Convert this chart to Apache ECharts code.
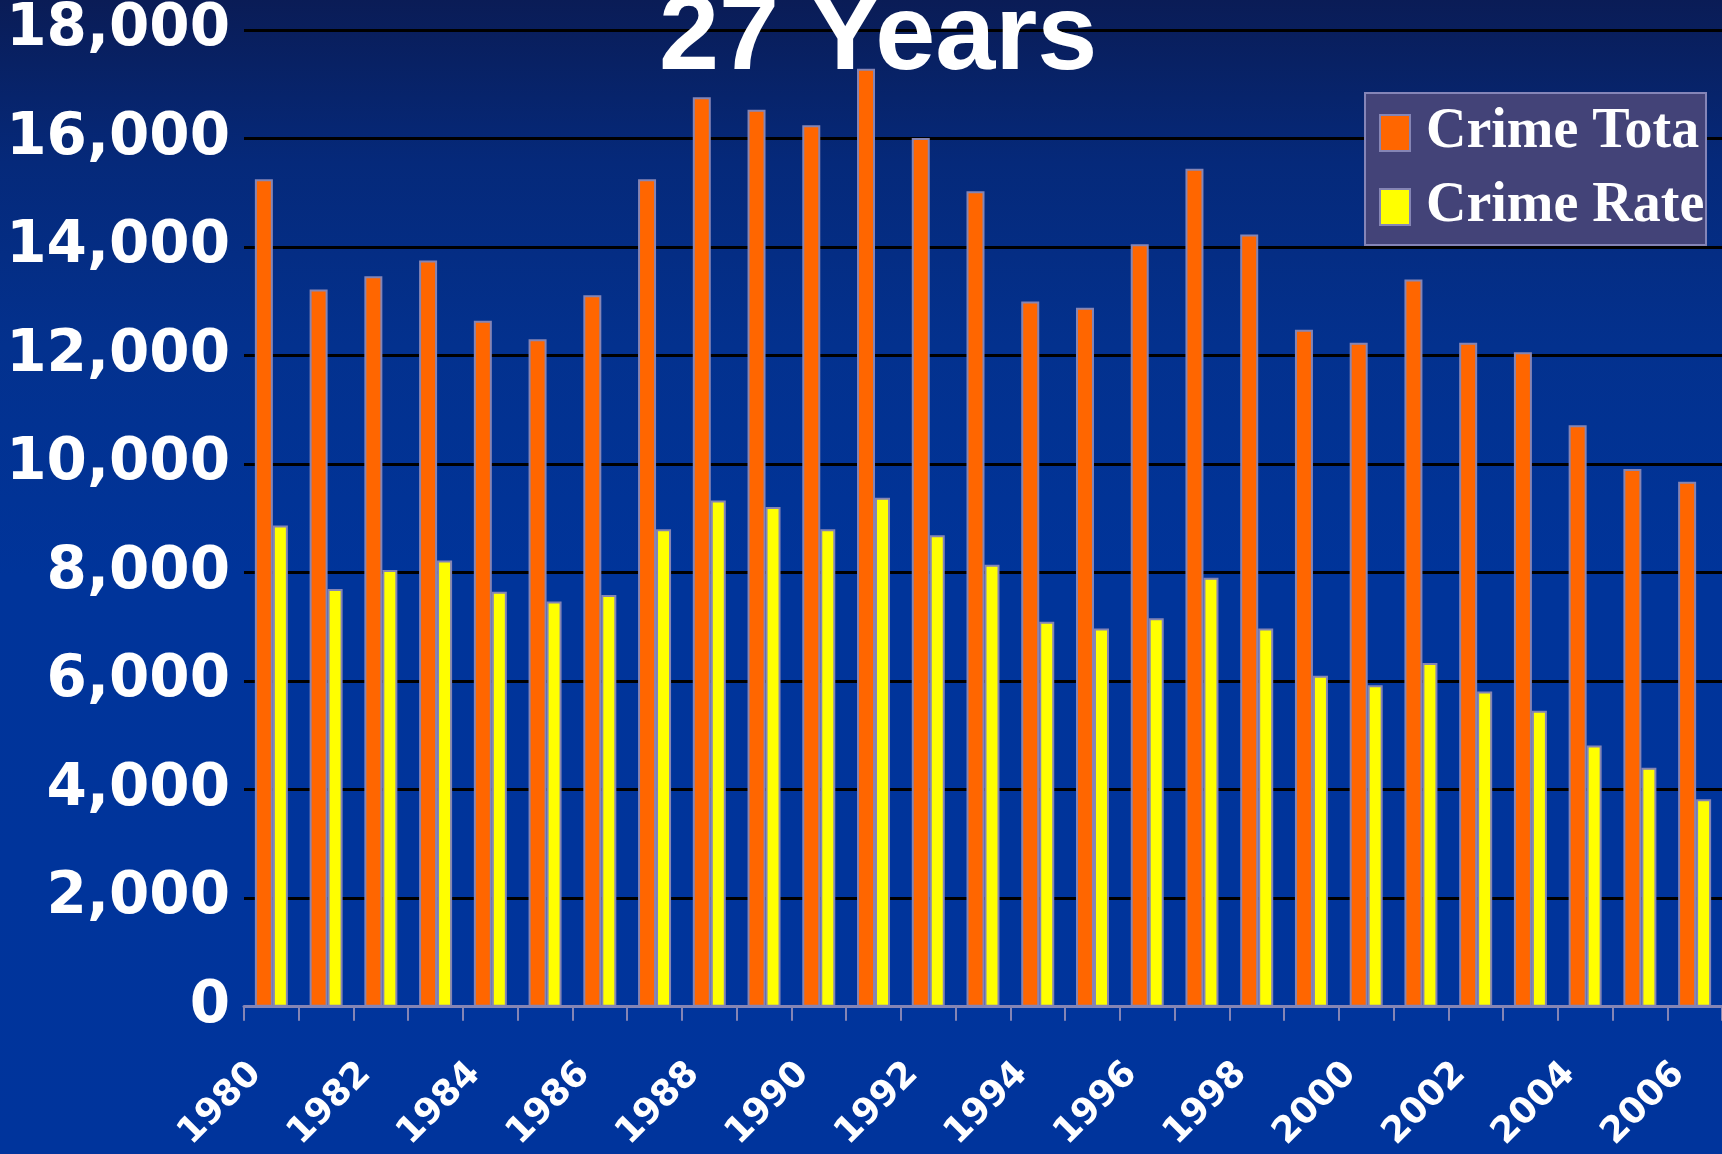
<!DOCTYPE html>
<html>
<head>
<meta charset="utf-8">
<title>27 Years</title>
<script src="https://cdn.jsdelivr.net/npm/echarts@6/dist/echarts.min.js"></script>
<style>
  html, body { margin: 0; padding: 0; }
  #chart {
    width: 1722px;
    height: 1154px;
    background: linear-gradient(to bottom, #0a1c56 0%, #05297a 14%, #03318e 30%, #00349a 50%, #00349c 100%);
  }
</style>
</head>
<body>
<div id="chart"></div>
<script>
'use strict';

var years = ['1980', '1981', '1982', '1983', '1984', '1985', '1986', '1987', '1988',
  '1989', '1990', '1991', '1992', '1993', '1994', '1995', '1996', '1997', '1998',
  '1999', '2000', '2001', '2002', '2003', '2004', '2005', '2006'];

var crimeTotal = [15250, 13220, 13460, 13750, 12640, 12300, 13110, 15250, 16760,
  16530, 16245, 17285, 16012, 15030, 12995, 12880, 14050, 15445, 14230,
  12475, 12235, 13400, 12235, 12060, 10715, 9910, 9675];

var crimeRate = [8870, 7700, 8050, 8225, 7650, 7470, 7590, 8800, 9330,
  9210, 8800, 9380, 8690, 8145, 7095, 6970, 7160, 7905, 6970,
  6100, 5925, 6335, 5810, 5455, 4815, 4405, 3825];

var seriesNames = ['Crime Total', 'Crime Rate'];
var seriesColors = ['#ff6600', '#ffff00'];

var borderColor = '#8585b5';

function addCommas(v) {
  return String(v).replace(/\B(?=(\d{3})+(?!\d))/g, ',');
}

var chart = echarts.init(document.getElementById('chart'), null, {renderer: 'canvas'});

var option = {
  backgroundColor: 'transparent',
  animation: false,
  title: {
    text: '27 Years',
    left: 659,
    top: -15,
    padding: 0,
    textStyle: {
      color: '#ffffff',
      fontFamily: 'Liberation Sans',
      fontWeight: 'bold',
      fontSize: 108
    }
  },
  legend: {
    orient: 'vertical',
    left: 1365,
    top: 93,
    padding: [12, 0, 10, 14],
    itemGap: 18,
    itemWidth: 30,
    itemHeight: 36,
    icon: 'rect',
    backgroundColor: '#434378',
    borderColor: '#8585b8',
    borderWidth: 2,
    borderRadius: 0,
    itemStyle: {
      borderColor: borderColor,
      borderWidth: 2
    },
    textStyle: {
      color: '#ffffff',
      fontFamily: 'Liberation Serif',
      fontWeight: 'bold',
      fontSize: 56,
      lineHeight: 40,
      padding: [0, 0, 0, 11],
      width: 280,
      overflow: 'truncate',
      ellipsis: ''
    },
    data: seriesNames
  },
  grid: {
    left: 244,
    right: -2,
    top: 30,
    bottom: 141,
    containLabel: false
  },
  //xAxis
  xAxis: {
    type: 'category',
    data: years,
    z: 3,
    axisLine: {
      show: true,
      lineStyle: {
        color: borderColor,
        width: 3
      }
    },
    axisTick: {
      show: true,
      interval: 0,
      length: 14,
      lineStyle: {
        color: borderColor,
        width: 2
      }
    },
    axisLabel: {
      interval: 1,
      rotate: 45,
      margin: 46,
      padding: [0, 22, 0, 0],
      color: '#ffffff',
      fontFamily: 'DejaVu Sans',
      fontWeight: 'bold',
      fontSize: 36
    },
    splitLine: { show: false }
  },
  //yAxis
  yAxis: {
    type: 'value',
    min: 0,
    max: 18000,
    interval: 2000,
    axisLine: { show: false },
    axisTick: { show: false },
    axisLabel: {
      margin: 14,
      color: '#ffffff',
      fontFamily: 'DejaVu Sans',
      fontWeight: 'bold',
      fontSize: 58,
      formatter: function (v) {
        return addCommas(v);
      }
    },
    splitLine: {
      show: true,
      lineStyle: {
        color: '#000000',
        width: 3,
        type: 'solid'
      }
    }
  },
  //series
  series: [
    {
      type: 'bar',
      name: seriesNames[0],
      data: crimeTotal,
      barWidth: 18,
      barGap: '0%',
      itemStyle: {
        color: seriesColors[0],
        borderColor: borderColor,
        borderWidth: 2
      }
    },
    {
      type: 'bar',
      name: seriesNames[1],
      data: crimeRate,
      barWidth: 15,
      barGap: '0%',
      itemStyle: {
        color: seriesColors[1],
        borderColor: borderColor,
        borderWidth: 2
      }
    }
  ]
};

chart.setOption(option);
</script>
</body>
</html>
